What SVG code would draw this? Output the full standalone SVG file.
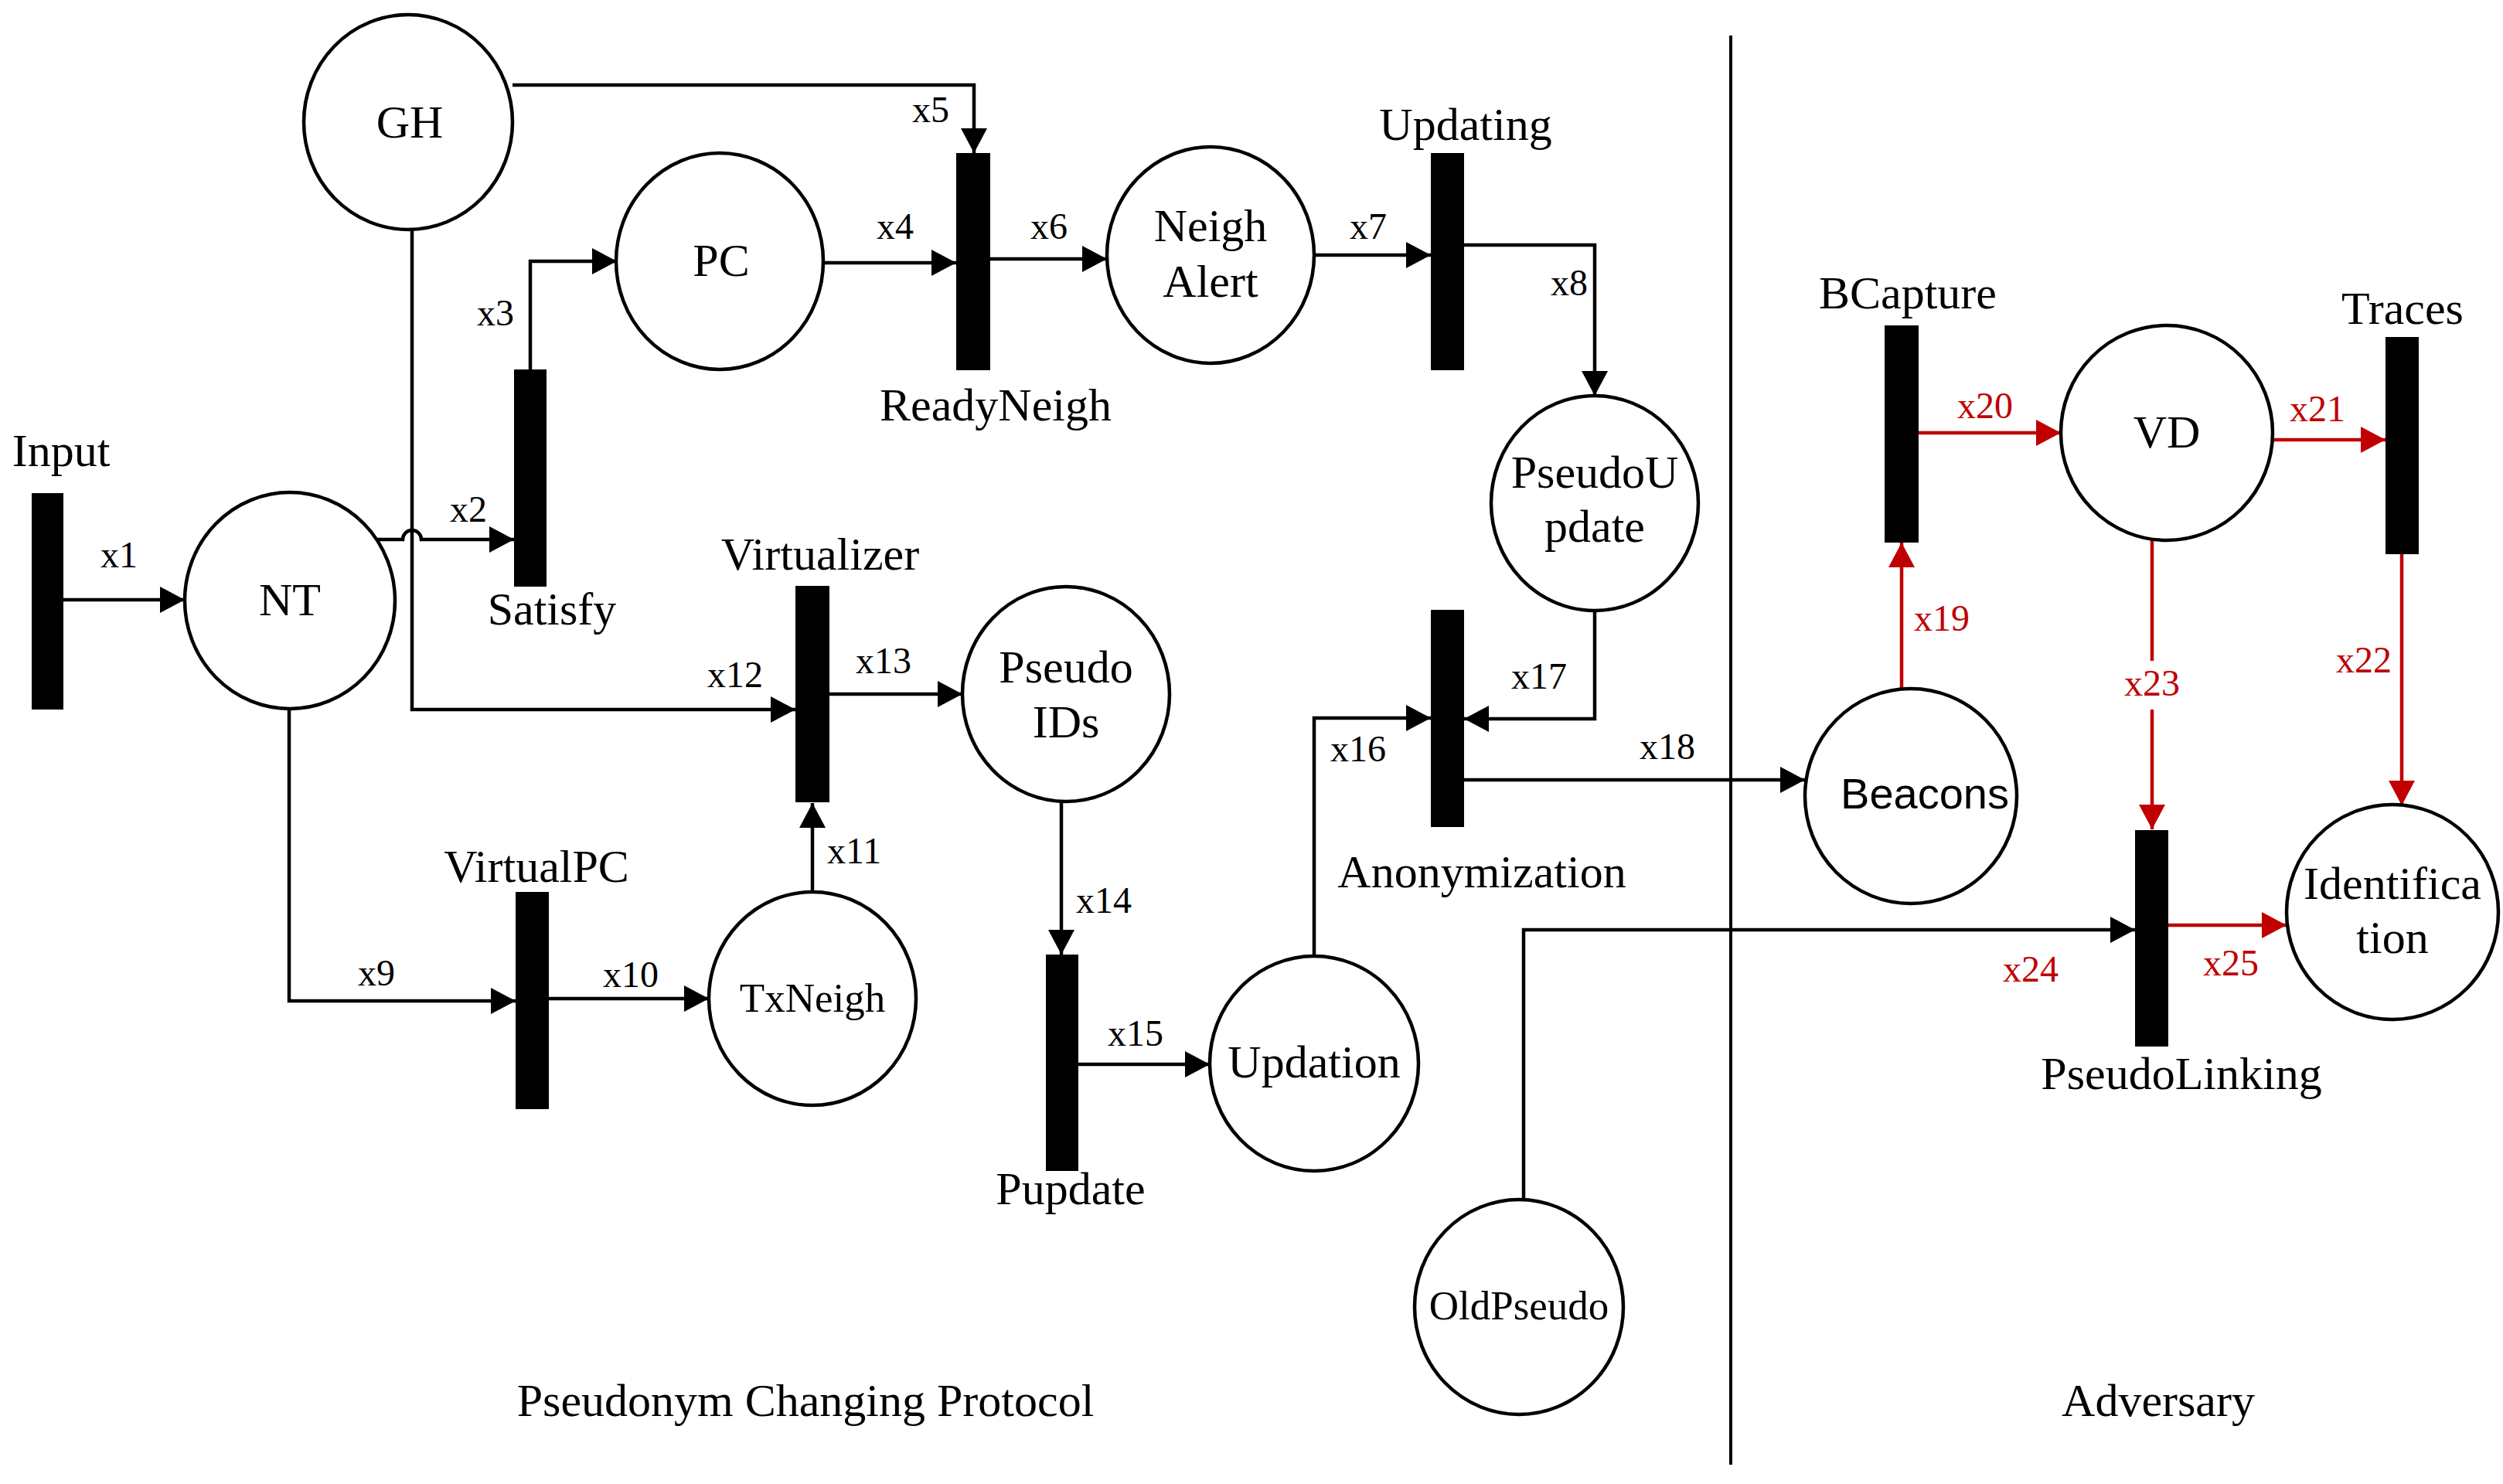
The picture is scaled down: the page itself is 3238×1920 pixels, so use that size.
<svg xmlns="http://www.w3.org/2000/svg" width="3238" height="1920" viewBox="0 0 3238 1920">
<style>
.pl{fill:#fff;stroke:#000;stroke-width:4.5}
.tr{fill:#000}
.lb{font-family:"Liberation Serif","Times New Roman",serif;font-size:60px;fill:#000;text-anchor:middle}
.sm{font-size:53px}
.xl{font-family:"Liberation Serif","Times New Roman",serif;font-size:48px;fill:#000}
.rd{fill:#c00000}
.c{fill:none;stroke:#000;stroke-width:4.5}
.r{fill:none;stroke:#c00000;stroke-width:4.5}
</style>
<defs>
<marker id="ab" markerUnits="userSpaceOnUse" markerWidth="34" markerHeight="36" refX="32" refY="17" orient="auto"><path d="M0,0 L32,17 L0,34 Z" fill="#000"/></marker>
<marker id="ar" markerUnits="userSpaceOnUse" markerWidth="34" markerHeight="36" refX="32" refY="17" orient="auto"><path d="M0,0 L32,17 L0,34 Z" fill="#c00000"/></marker>
</defs>
<rect width="3238" height="1920" fill="#fff"/>
<g id="connectors">
<path class="c" marker-end="url(#ab)" d="M82,776 H239"/>
<path class="c" marker-end="url(#ab)" d="M488,698 H521 A12,12 0 0 1 545,698 H665"/>
<path class="c" marker-end="url(#ab)" d="M686,478 V338 H798"/>
<path class="c" marker-end="url(#ab)" d="M663,110 H1260 V198"/>
<path class="c" marker-end="url(#ab)" d="M1065,340 H1237"/>
<path class="c" marker-end="url(#ab)" d="M1281,335 H1432"/>
<path class="c" marker-end="url(#ab)" d="M1700,330 H1851"/>
<path class="c" marker-end="url(#ab)" d="M1894,317 H2063 V512"/>
<path class="c" marker-end="url(#ab)" d="M374,917 V1295 H667"/>
<path class="c" marker-end="url(#ab)" d="M710,1292 H917"/>
<path class="c" marker-end="url(#ab)" d="M1051,1154 V1039"/>
<path class="c" marker-end="url(#ab)" d="M533,297 V918 H1029"/>
<path class="c" marker-end="url(#ab)" d="M1073,898 H1245"/>
<path class="c" marker-end="url(#ab)" d="M1373,1037 V1235"/>
<path class="c" marker-end="url(#ab)" d="M1395,1377 H1565"/>
<path class="c" marker-end="url(#ab)" d="M1700,1237 V929 H1851"/>
<path class="c" marker-end="url(#ab)" d="M2063,789 V930 H1894"/>
<path class="c" marker-end="url(#ab)" d="M1894,1009 H2335"/>
<path class="c" marker-end="url(#ab)" d="M1971,1552 V1203 H2762"/>
<path class="r" marker-end="url(#ar)" d="M2460,891 V702"/>
<path class="r" marker-end="url(#ar)" d="M2478,560 H2666"/>
<path class="r" marker-end="url(#ar)" d="M2940,569 H3086"/>
<path class="r" marker-end="url(#ar)" d="M3107,717 V1042"/>
<path class="r" d="M2784,699 V855"/>
<path class="r" marker-end="url(#ar)" d="M2784,918 V1073"/>
<path class="r" marker-end="url(#ar)" d="M2805,1197 H2958"/>
<path fill="none" stroke="#000" stroke-width="4" d="M2239,46 V1895"/>
</g>
<g id="labels-x">
<text class="xl" x="130" y="734">x1</text>
<text class="xl" x="582" y="675">x2</text>
<text class="xl" x="617" y="421">x3</text>
<text class="xl" x="1134" y="309">x4</text>
<text class="xl" x="1180" y="158">x5</text>
<text class="xl" x="1333" y="309">x6</text>
<text class="xl" x="1746" y="309">x7</text>
<text class="xl" x="2006" y="382">x8</text>
<text class="xl" x="463" y="1275">x9</text>
<text class="xl" x="780" y="1277">x10</text>
<text class="xl" x="1070" y="1117">x11</text>
<text class="xl" x="915" y="889">x12</text>
<text class="xl" x="1107" y="871">x13</text>
<text class="xl" x="1392" y="1181">x14</text>
<text class="xl" x="1433" y="1353">x15</text>
<text class="xl" x="1721" y="985">x16</text>
<text class="xl" x="1955" y="891">x17</text>
<text class="xl" x="2121" y="982">x18</text>
<text class="xl rd" x="2476" y="816">x19</text>
<text class="xl rd" x="2532" y="541">x20</text>
<text class="xl rd" x="2962" y="545">x21</text>
<text class="xl rd" x="3022" y="870">x22</text>
<text class="xl rd" x="2784" y="900" text-anchor="middle">x23</text>
<text class="xl rd" x="2591" y="1270">x24</text>
<text class="xl rd" x="2850" y="1262">x25</text>
</g>
<g id="Input"><rect class="tr" x="41" y="638" width="41" height="280"/><text class="lb" x="79" y="603">Input</text></g>
<g id="NT"><ellipse class="pl" cx="375" cy="777" rx="136" ry="140"/><text class="lb" x="375" y="796">NT</text></g>
<g id="GH"><ellipse class="pl" cx="528" cy="158" rx="135" ry="139"/><text class="lb" x="530" y="178">GH</text></g>
<g id="PC"><ellipse class="pl" cx="931" cy="338" rx="134" ry="140"/><text class="lb" x="933" y="357">PC</text></g>
<g id="Satisfy"><rect class="tr" x="665" y="478" width="42" height="281"/><text class="lb" x="714" y="808">Satisfy</text></g>
<g id="ReadyNeigh"><rect class="tr" x="1237" y="198" width="44" height="281"/><text class="lb" x="1288" y="544">ReadyNeigh</text></g>
<g id="NeighAlert"><ellipse class="pl" cx="1566" cy="330" rx="134" ry="140"/><text class="lb" x="1566" y="312">Neigh</text><text class="lb" x="1566" y="384">Alert</text></g>
<g id="Updating"><rect class="tr" x="1851" y="198" width="43" height="281"/><text class="lb" x="1896" y="181">Updating</text></g>
<g id="PseudoUpdate"><ellipse class="pl" cx="2063" cy="651" rx="134" ry="139"/><text class="lb" x="2063" y="631">PseudoU</text><text class="lb" x="2063" y="701">pdate</text></g>
<g id="Virtualizer"><rect class="tr" x="1029" y="758" width="44" height="280"/><text class="lb" x="1061" y="737">Virtualizer</text></g>
<g id="PseudoIDs"><ellipse class="pl" cx="1379" cy="898" rx="134" ry="139"/><text class="lb" x="1379" y="883">Pseudo</text><text class="lb" x="1379" y="954">IDs</text></g>
<g id="Anonymization"><rect class="tr" x="1851" y="789" width="43" height="281"/><text class="lb" x="1917" y="1148">Anonymization</text></g>
<g id="VirtualPC"><rect class="tr" x="667" y="1154" width="43" height="281"/><text class="lb" x="694" y="1141">VirtualPC</text></g>
<g id="TxNeigh"><ellipse class="pl" cx="1051" cy="1292" rx="134" ry="138"/><text class="lb sm" x="1051" y="1309">TxNeigh</text></g>
<g id="Pupdate"><rect class="tr" x="1353" y="1235" width="42" height="280"/><text class="lb" x="1385" y="1558">Pupdate</text></g>
<g id="Updation"><ellipse class="pl" cx="1700" cy="1376" rx="135" ry="139"/><text class="lb" x="1700" y="1394">Updation</text></g>
<g id="OldPseudo"><ellipse class="pl" cx="1965" cy="1691" rx="135" ry="139"/><text class="lb sm" x="1965" y="1707">OldPseudo</text></g>
<g id="Beacons"><ellipse class="pl" cx="2472" cy="1030" rx="137" ry="139"/><text class="lb" style="font-family:'Liberation Sans',Arial,sans-serif;font-size:56px" x="2490" y="1046">Beacons</text></g>
<g id="BCapture"><rect class="tr" x="2438" y="421" width="44" height="281"/><text class="lb" x="2468" y="399">BCapture</text></g>
<g id="VD"><ellipse class="pl" cx="2803" cy="560" rx="137" ry="139"/><text class="lb" x="2803" y="579">VD</text></g>
<g id="Traces"><rect class="tr" x="3086" y="436" width="43" height="281"/><text class="lb" x="3108" y="419">Traces</text></g>
<g id="PseudoLinking"><rect class="tr" x="2762" y="1074" width="43" height="280"/><text class="lb" x="2822" y="1409">PseudoLinking</text></g>
<g id="Identification"><ellipse class="pl" cx="3095" cy="1180" rx="137" ry="139"/><text class="lb" x="3095" y="1163">Identifica</text><text class="lb" x="3095" y="1233">tion</text></g>
<g id="captions"><text class="lb" x="1042" y="1832">Pseudonym Changing Protocol</text><text class="lb" x="2792" y="1832">Adversary</text></g>
</svg>
